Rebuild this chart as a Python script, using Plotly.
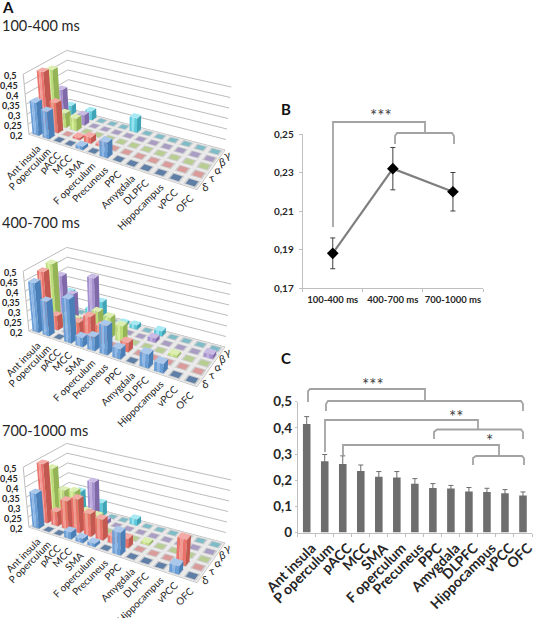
import numpy as np
import plotly.graph_objects as go

regions = ["Ant insula", "P operculum", "pACC", "MCC", "SMA", "F operculum", "Precuneus",
           "PPC", "Amygdala", "DLPFC", "Hippocampus", "vPCC", "OFC"]
bands = ["δ", "τ", "α", "β", "γ"]
BASE = 0.2

# panel A: {column index: value}; absent cells sit on the floor
a1_delta = {0: .365, 1: .335, 4: .215, 6: .275}
a1_theta = {0: .49, 1: .35, 3: .21, 4: .23, 5: .21}
a1_alpha = {0: .475, 1: .27, 2: .26}
a1_beta = {0: .35, 2: .25}
a1_gamma = {0: .245, 2: .245, 6: .27}

a2_delta = {0: .447, 1: .37, 3: .415, 4: .245, 5: .267, 6: .34, 7: .25, 9: .267, 10: .245}
a2_theta = {0: .475, 1: .27, 3: .27, 4: .315, 5: .285, 7: .245}
a2_alpha = {0: .49, 1: .24, 2: .24, 4: .31, 5: .30, 6: .275, 10: .21}
a2_beta = {0: .405, 1: .325, 3: .435, 8: .22, 12: .22}
a2_gamma = {0: .30, 2: .24, 3: .29, 5: .215, 6: .22, 8: .225}

a3_delta = {0: .375, 3: .235, 4: .22, 5: .215, 7: .31, 11: .24}
a3_theta = {0: .495, 1: .27, 2: .34, 3: .365, 4: .31, 5: .30, 6: .235, 7: .245, 11: .325}
a3_alpha = {0: .447, 1: .35, 2: .36, 3: .275, 4: .27, 8: .21}
a3_beta = {0: .30, 3: .395, 4: .22}
a3_gamma = {1: .295, 3: .265, 6: .23}

panel_names = ["100-400 ms", "400-700 ms", "700-1000 ms"]
panel_title_y = [25, 222, 430]
panel_shift = [0, 197, 393]
panels = [[a1_delta, a1_theta, a1_alpha, a1_beta, a1_gamma],
          [a2_delta, a2_theta, a2_alpha, a2_beta, a2_gamma],
          [a3_delta, a3_theta, a3_alpha, a3_beta, a3_gamma]]

b_labels = ["100-400 ms", "400-700 ms", "700-1000 ms"]
b_values = [0.188, 0.232, 0.220]
b_err = [0.008, 0.011, 0.010]

c_values = [0.415, 0.272, 0.262, 0.235, 0.213, 0.210, 0.186, 0.170, 0.168, 0.157, 0.155, 0.150, 0.141]
c_err = [0.028, 0.026, 0.031, 0.023, 0.020, 0.023, 0.020, 0.017, 0.012, 0.015, 0.014, 0.014, 0.014]

W, H = 533, 618
GREY = "#7f7f7f"
BR = "#a3a3a3"

# colour ramps per band: light, mid, dark, top, tile
band_colors = [
    ("#8fb8e6", "#6a9fd8", "#4a7fb8", "#a9c8ec", "#5f7fa6"),
    ("#f29a92", "#ea746c", "#c25850", "#f4aaa5", "#d99c9a"),
    ("#d6ee9a", "#bcdc78", "#94b455", "#dcefb0", "#b8cd92"),
    ("#bfaee0", "#a690cf", "#8069a8", "#c9bbe4", "#a99dc4"),
    ("#93e4f0", "#5ecbdd", "#3ea4b6", "#a8eaf4", "#80bcc8"),
]

# floor homography: (col,row) -> reference px, anchored on the corner cell centres
src = [(0, 0), (12, 0), (12, 4), (0, 4)]
dst = [(38.5, 133), (192, 182.5), (215, 151.5), (71, 112.5)]
A = []
for (u, v), (x, y) in zip(src, dst):
    A.append([u, v, 1, 0, 0, 0, -u * x, -v * x, -x])
    A.append([0, 0, 0, u, v, 1, -u * y, -v * y, -y])
M = np.linalg.svd(np.array(A, float))[2][-1].reshape(3, 3)


def proj(c, r, h, dy):
    p = M @ np.array([c, r, 1.0])
    x, y = p[0] / p[2], p[1] / p[2]
    t, s = np.clip(c / 12, -.1, 1.1), np.clip(r / 4, -.1, 1.1)
    scale = (200 + 12 * t) * (1 - s) + (196 + 14 * t) * s
    tilt = (x - 125) * 0.001
    return x + tilt * h * scale, y - h * scale + dy


fig = go.Figure()
ov = dict(xaxis="x3", yaxis="y3", hoverinfo="skip", showlegend=False, mode="lines")


def poly(pts, fill, line=None, width=0):
    xs = [p[0] for p in pts] + [pts[0][0]]
    ys = [p[1] for p in pts] + [pts[0][1]]
    fig.add_trace(go.Scatter(x=xs, y=ys, fill="toself", fillcolor=fill,
                             line=dict(color=line or fill, width=width), **ov))


def pline(pts, color, width=1):
    fig.add_trace(go.Scatter(x=[p[0] for p in pts], y=[p[1] for p in pts],
                             line=dict(color=color, width=width), **ov))


def cell(c, r, half, dy):
    return [proj(c - half, r - half, 0, dy), proj(c + half, r - half, 0, dy),
            proj(c + half, r + half, 0, dy), proj(c - half, r + half, 0, dy)]


def bar(c, r, val, dy):
    h = val - BASE
    w = 0.31
    light, mid, dark, top, _ = band_colors[r]
    a0, a1 = proj(c - w, r - w, 0, dy), proj(c + w, r - w, 0, dy)
    b1 = proj(c + w, r + w, 0, dy)
    t0, t1 = proj(c - w, r - w, h, dy), proj(c + w, r - w, h, dy)
    t2, t3 = proj(c + w, r + w, h, dy), proj(c - w, r + w, h, dy)
    cols = [mid, light, mid]
    edges = [0, .3, .62, 1]
    for k in range(3):
        f0, f1 = edges[k], edges[k + 1]
        mix = lambda p, q, f: (p[0] + (q[0] - p[0]) * f, p[1] + (q[1] - p[1]) * f)
        poly([mix(a0, a1, f0), mix(a0, a1, f1), mix(t0, t1, f1), mix(t0, t1, f0)], cols[k])
    poly([a1, b1, t2, t1], dark)
    poly([t0, t1, t2, t3], top)


levels = [0.5, 0.45, 0.4, 0.35, 0.3, 0.25, 0.2]
for dy, vals, name, ty in zip(panel_shift, panels, panel_names, panel_title_y):
    for lv in levels:
        h = lv - BASE
        pline([proj(-.5, -.5, h, dy), proj(-.5, 4.5, h, dy), proj(12.5, 4.5, h, dy)], "#bdbdbd", 1)
    pline([proj(-.5, -.5, 0, dy), proj(-.5, -.5, .3, dy)], "#bdbdbd", 1)
    corners = [proj(-.5, -.5, 0, dy), proj(12.5, -.5, 0, dy), proj(12.5, 4.5, 0, dy), proj(-.5, 4.5, 0, dy)]
    poly(corners, "#e6e6e6", "#c8c8c8", 1)
    for r in range(5):
        for c in range(13):
            poly(cell(c, r, .46, dy), "#f0f0f0")
            poly(cell(c, r, .39, dy), "#cfcfcf")
            poly(cell(c, r, .28, dy), band_colors[r][4])
    for r in range(4, -1, -1):
        for c in range(13):
            if c in vals[r]:
                bar(c, r, vals[r][c], dy)
    for lv in levels:
        x, y = proj(-.5, -.5, lv - BASE, dy)
        fig.add_annotation(x=x - 4, y=y + 1, xref="x3", yref="y3", text=f"{lv:g}".replace(".", ","),
                           showarrow=False, xanchor="right", yanchor="middle",
                           font=dict(family="Lato", size=9, color="#262626", weight="bold"))
    for c, nm in enumerate(regions):
        x, y = proj(c, 0, 0, dy)
        fig.add_annotation(x=x + 7, y=y + 6, xref="x3", yref="y3", text=nm, textangle=-45, showarrow=False,
                           xanchor="right", yanchor="top",
                           font=dict(family="Lato", size=10, color="#262626"))
    for r, nm in enumerate(bands):
        x, y = proj(12.75, r, 0, dy)
        fig.add_annotation(x=x + 1, y=y, xref="x3", yref="y3", text=nm, textangle=-15, showarrow=False,
                           xanchor="center", yanchor="middle", font=dict(family="Lato", size=11, color="#262626"))
    fig.add_annotation(x=0, y=ty, xref="x3", yref="y3", text=name, showarrow=False, xanchor="left",
                       font=dict(family="Lato", size=14.5, color="#262626"))

# panel B
fig.add_trace(go.Scatter(x=b_labels, y=b_values, mode="lines+markers", xaxis="x", yaxis="y",
                         line=dict(color=GREY, width=2.2),
                         marker=dict(symbol="diamond", size=9, color="black"),
                         error_y=dict(type="data", array=b_err, color="#404040", thickness=1, width=2.5),
                         showlegend=False))
# panel C
fig.add_trace(go.Bar(x=regions, y=c_values, xaxis="x2", yaxis="y2", marker=dict(color="#6e6e6e", line_width=0),
                     width=0.42, error_y=dict(type="data", array=c_err, color="#6e6e6e", thickness=1, width=2.5),
                     showlegend=False))


def dom(a, b, total):
    return [a / total, b / total]


def ydom(top, bot):
    return [1 - bot / H, 1 - top / H]


tick = dict(family="Lato", color="#262626", weight="bold")
fig.update_layout(
    width=W, height=H, margin=dict(l=0, r=0, t=0, b=0, autoexpand=False), paper_bgcolor="white",
    plot_bgcolor="rgba(0,0,0,0)",
    xaxis=dict(domain=dom(302.7, 483, W), anchor="y", type="category", showgrid=False, showline=True,
               linecolor="#bfbfbf", ticks="outside", ticklen=3, tickcolor="#bfbfbf", zeroline=False,
               tickfont=dict(size=9.5, **tick), range=[-.5, 2.5], tickson="boundaries", tickangle=0,
               tickmode="array", tickvals=b_labels, ticktext=b_labels, automargin=False, ticklabelstandoff=3),
    yaxis=dict(domain=ydom(134, 288), anchor="x", range=[.17, .25], tickvals=[.17, .19, .21, .23, .25],
               ticktext=["0,17", "0,19", "0,21", "0,23", "0,25"], showgrid=False, showline=True,
               linecolor="#bfbfbf", ticks="outside", ticklen=3, tickcolor="#bfbfbf", zeroline=False,
               tickfont=dict(size=10, **tick), automargin=False, ticklabelstandoff=3),
    xaxis2=dict(domain=dom(297.7, 532, W), anchor="y2", type="category", showgrid=False, showline=True,
                linecolor="#bfbfbf", ticks="outside", ticklen=3, tickcolor="#bfbfbf", tickangle=-45,
                tickfont=dict(size=14, **tick), tickson="boundaries", range=[-.5, 12.5],
                tickmode="array", tickvals=regions, ticktext=regions, automargin=False, ticklabelshift=5,
                ticklabelstandoff=1),
    yaxis2=dict(domain=ydom(401.7, 532.5), anchor="x2", range=[0, .5], tickvals=[0, .1, .2, .3, .4, .5],
                ticktext=["0", "0,1", "0,2", "0,3", "0,4", "0,5"], showgrid=False, showline=True,
                linecolor="#bfbfbf", ticks="outside", ticklen=2, tickcolor="#bfbfbf", zeroline=False,
                tickfont=dict(size=13.5, **tick), automargin=False),
    xaxis3=dict(domain=[0, 1], range=[0, W], visible=False, anchor="y3"),
    yaxis3=dict(domain=[0, 1], range=[H, 0], visible=False, anchor="x3"),
)


def path(pts):
    return "M " + " L ".join(f"{x},{y}" for x, y in pts)


def bracket(pts):
    fig.add_shape(type="path", path=path(pts), xref="x3", yref="y3", line=dict(color=BR, width=1.8), layer="above")


# B brackets
bracket([(333, 227), (333, 122), (425, 122), (425, 133)])
bracket([(395, 144), (395, 136), (397, 133), (425, 133), (452, 133), (454, 136), (454, 144)])
# C brackets
bracket([(308, 402), (308, 391), (310, 389), (425, 389), (425, 401)])
bracket([(326, 411), (326, 404), (328, 401), (425, 401), (521, 401), (523, 404), (523, 411)])
bracket([(325, 452), (325, 420), (478, 420), (478, 429)])
bracket([(434, 439), (434, 432), (437, 429.5), (478, 429.5), (521, 429.5), (523, 432), (523, 439)])
bracket([(343, 455), (343, 445), (499, 445), (499, 456)])
bracket([(473, 465), (473, 458), (476, 456), (499, 456), (522, 456), (524, 458), (524, 465)])

for x, y, t, fs in [(381, 115, "***", 17), (373, 384, "***", 17), (456, 416, "**", 17), (489, 440, "*", 17)]:
    fig.add_annotation(x=x, y=y, xref="x3", yref="y3", text=t, showarrow=False,
                       font=dict(family="Lato", size=fs, color="#404040"))
for x, y, t in [(0, 7, "A"), (279, 109, "B"), (279, 358, "C")]:
    fig.add_annotation(x=x, y=y, xref="x3", yref="y3", text=t, showarrow=False, xanchor="left",
                       font=dict(family="Lato", size=15, color="#111111", weight="bold"))

fig.write_html("out.html", config=dict(displayModeBar=False), post_script="document.body.style.margin='0';")
